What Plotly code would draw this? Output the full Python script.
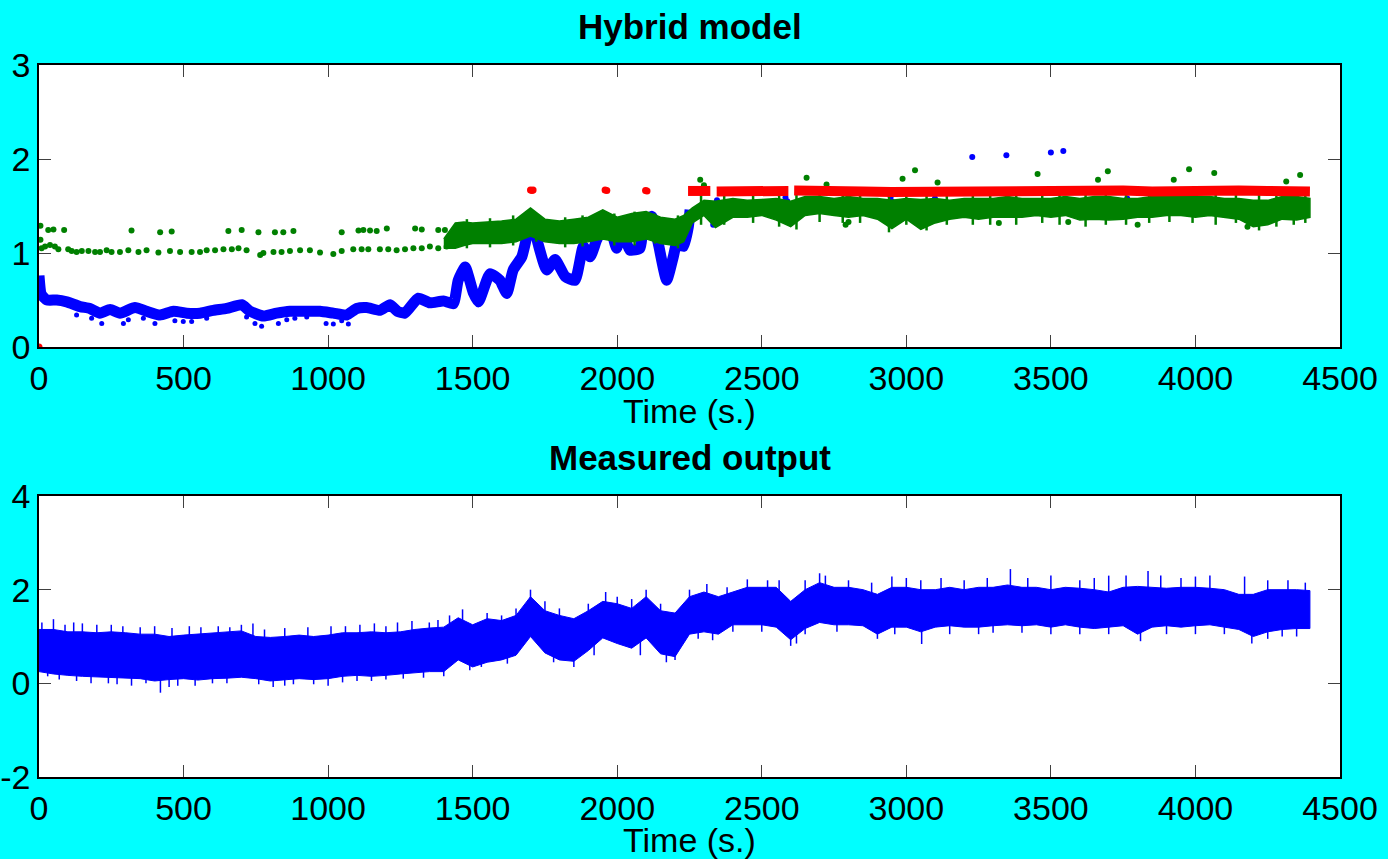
import plotly.graph_objects as go

# ---------------- Hybrid model (top panel) ----------------
# Blue: model output, dense track up to ~2250 s
blue_t = [0, 8, 27, 61, 96, 142, 176, 211, 246, 280, 332, 372, 419, 465, 511, 557,
          603, 649, 701, 730, 776, 822, 868, 926, 972, 1018, 1064, 1099, 1133, 1180,
          1214, 1240, 1265, 1312, 1352, 1399, 1433, 1450, 1474, 1502, 1520, 1560,
          1594, 1618, 1640, 1670, 1692, 1704, 1726, 1756, 1785, 1820, 1854, 1883,
          1906, 1929, 1958, 1975, 1998, 2016, 2044, 2079, 2090, 2119, 2142, 2171,
          2194, 2206, 2229, 2246, 2252]
blue_v = [0.76, 0.56, 0.50, 0.50, 0.48, 0.43, 0.41, 0.36, 0.40, 0.36, 0.42, 0.38,
          0.34, 0.38, 0.36, 0.36, 0.39, 0.41, 0.45, 0.38, 0.33, 0.36, 0.38, 0.38,
          0.38, 0.36, 0.34, 0.41, 0.42, 0.39, 0.45, 0.38, 0.36, 0.52, 0.47, 0.49,
          0.46, 0.71, 0.85, 0.58, 0.48, 0.78, 0.71, 0.57, 0.82, 0.96, 1.24, 1.39,
          1.10, 0.82, 0.93, 0.75, 0.71, 1.07, 0.96, 1.14, 1.32, 1.28, 1.05, 1.24,
          1.03, 1.05, 1.28, 1.39, 1.10, 0.71, 0.96, 1.10, 1.07, 1.28, 1.46]

# Blue: isolated low samples
blue_low_t = [130, 182, 217, 292, 309, 361, 401, 470, 499, 528, 580, 718, 747, 770,
              828, 857, 885, 926, 993, 1018, 1047, 1070]
blue_low_v = [0.34, 0.305, 0.25, 0.25, 0.29, 0.305, 0.25, 0.28, 0.27, 0.27, 0.305,
              0.32, 0.25, 0.22, 0.25, 0.29, 0.305, 0.32, 0.25, 0.245, 0.28, 0.245]

# Blue: sparse samples after 2250 s
blue_late_t = [2332, 2338, 2345, 2582, 2588, 2946, 2950, 3099, 3228, 3346, 3500,
               3543, 3764, 3808, 4223]
blue_late_v = [1.30, 1.38, 1.56, 1.59, 1.55, 1.60, 1.55, 1.58, 2.02, 2.04, 2.07,
               2.085, 1.58, 1.55, 1.51]

# Green: sparse samples before 1450 s
green_sparse_t = [5, 9, 21, 38, 55, 67, 101, 113, 130, 148, 171, 194, 211, 234, 251,
                  280, 309, 344, 372, 413, 453, 488, 528, 557, 580, 609, 638, 667,
                  690, 718, 765, 776, 811, 839, 868, 903, 937, 972, 1018, 1047, 1087,
                  1116, 1139, 1179, 1208, 1237, 1266, 1295, 1324, 1352, 1381, 1410,
                  1433,
                  5, 32, 50, 87, 320, 419, 459, 655, 701, 759, 816, 845, 880, 1047,
                  1105, 1122, 1145, 1168, 1203, 1301, 1324, 1381, 1404]
green_sparse_v = [1.14, 1.05, 1.07, 1.085, 1.07, 1.04, 1.04, 1.02, 1.01, 1.02, 1.02,
                  1.01, 1.01, 1.03, 1.01, 1.01, 1.03, 1.01, 1.03, 1.005, 1.02, 1.01,
                  1.01, 1.01, 1.03, 1.03, 1.04, 1.04, 1.05, 1.03, 0.98, 1.0, 1.01,
                  1.01, 1.02, 1.03, 1.03, 1.005, 0.99, 1.02, 1.04, 1.04, 1.04, 1.04,
                  1.04, 1.03, 1.04, 1.05, 1.05, 1.07, 1.05, 1.07, 1.085,
                  1.29, 1.245, 1.25, 1.245, 1.24, 1.22, 1.23, 1.235, 1.245, 1.22,
                  1.22, 1.22, 1.235, 1.22, 1.24, 1.245, 1.24, 1.235, 1.26, 1.26,
                  1.25, 1.245, 1.245]

# Green: dense band from ~1400 s onwards (lower / upper extent)
green_band_t = [1400, 1440, 1470, 1500, 1550, 1600, 1650, 1700, 1750, 1800, 1850,
                1900, 1950, 2000, 2050, 2100, 2150, 2200, 2230, 2260, 2300, 2340,
                2400, 2450, 2500, 2550, 2600, 2650, 2700, 2750, 2800, 2850, 2900,
                2950, 3000, 3050, 3100, 3150, 3200, 3250, 3300, 3350, 3400, 3450,
                3500, 3550, 3600, 3650, 3700, 3750, 3800, 3850, 3900, 3950, 4000,
                4050, 4100, 4150, 4200, 4250, 4300, 4350, 4396]
green_band_lo = [1.05, 1.05, 1.08, 1.10, 1.10, 1.10, 1.12, 1.18, 1.12, 1.10, 1.10,
                 1.12, 1.15, 1.12, 1.12, 1.15, 1.10, 1.08, 1.12, 1.32, 1.40, 1.27,
                 1.38, 1.38, 1.40, 1.35, 1.28, 1.40, 1.42, 1.40, 1.38, 1.40, 1.36,
                 1.26, 1.36, 1.25, 1.32, 1.36, 1.38, 1.36, 1.38, 1.38, 1.38, 1.40,
                 1.38, 1.40, 1.35, 1.36, 1.35, 1.36, 1.38, 1.38, 1.40, 1.40, 1.38,
                 1.40, 1.38, 1.36, 1.28, 1.30, 1.36, 1.35, 1.38]
green_band_hi = [1.15, 1.32, 1.33, 1.32, 1.33, 1.34, 1.36, 1.48, 1.36, 1.34, 1.36,
                 1.38, 1.46, 1.38, 1.42, 1.44, 1.38, 1.36, 1.40, 1.48, 1.56, 1.55,
                 1.58, 1.56, 1.57, 1.58, 1.55, 1.60, 1.60, 1.58, 1.60, 1.58, 1.58,
                 1.56, 1.58, 1.57, 1.58, 1.56, 1.58, 1.58, 1.58, 1.60, 1.58, 1.58,
                 1.58, 1.60, 1.58, 1.60, 1.60, 1.58, 1.58, 1.60, 1.60, 1.60, 1.60,
                 1.60, 1.58, 1.58, 1.56, 1.56, 1.60, 1.60, 1.58]

# Green: short excursions out of the band (time, min, max)
green_spk_t = [1480, 1560, 1640, 1720, 1820, 1880, 1990, 2060, 2130, 2210,
               2290, 2370, 2470, 2560, 2620, 2700, 2780, 2840, 2940, 3000,
               3070, 3140, 3230, 3290, 3380, 3470, 3530, 3620, 3690, 3760,
               3840, 3910, 3990, 4070, 4140, 4220, 4280, 4340, 4380]
green_spk_lo = [1.05, 1.06, 1.08, 1.12, 1.06, 1.07, 1.08, 1.08, 1.10, 1.05,
                1.30, 1.30, 1.32, 1.28, 1.25, 1.33, 1.32, 1.32, 1.22, 1.30,
                1.24, 1.30, 1.30, 1.30, 1.30, 1.32, 1.30, 1.28, 1.30, 1.30,
                1.32, 1.33, 1.32, 1.30, 1.32, 1.24, 1.28, 1.30, 1.32]
green_spk_hi = [1.36, 1.37, 1.40, 1.42, 1.38, 1.40, 1.42, 1.44, 1.42, 1.40,
                1.62, 1.64, 1.62, 1.64, 1.62, 1.65, 1.63, 1.64, 1.62, 1.66,
                1.64, 1.62, 1.64, 1.63, 1.64, 1.62, 1.66, 1.63, 1.64, 1.62,
                1.64, 1.66, 1.65, 1.64, 1.62, 1.62, 1.64, 1.68, 1.66]

# Green: scattered samples around the band after 2250 s
green_dot_t = [2287, 2300, 2655, 2724, 2790, 2800, 2987, 3030, 3108, 3320, 3454,
               3560, 3663, 3697, 3800, 3925, 3978, 4065, 4180, 4314, 4362]
green_dot_v = [1.78, 1.72, 1.80, 1.73, 1.30, 1.33, 1.79, 1.88, 1.75, 1.32, 1.84,
               1.33, 1.78, 1.87, 1.30, 1.78, 1.89, 1.85, 1.28, 1.76, 1.83]

# Red: active mode level
red_t = [2245, 2280, 2322, None, 2344, 2400, 2450, 2500, 2550, 2592, None, 2612,
         2650, 2750, 2850, 2950, 3050, 3150, 3250, 3350, 3450, 3550, 3650, 3750,
         3850, 3950, 4050, 4150, 4250, 4350, 4396]
red_v = [1.66, 1.655, 1.66, None, 1.655, 1.66, 1.665, 1.66, 1.655, 1.66, None, 1.665,
         1.66, 1.655, 1.655, 1.65, 1.655, 1.66, 1.655, 1.66, 1.665, 1.66, 1.66,
         1.665, 1.655, 1.665, 1.67, 1.665, 1.66, 1.66, 1.655]
red_dot_t = [0, 1700, 1705, 1709, 1958, 1964, 2098, 2103]
red_dot_v = [0.0, 1.67, 1.665, 1.67, 1.67, 1.665, 1.665, 1.66]

# ---------------- Measured output (bottom panel) ----------------
meas_t = list(range(0, 4401, 50))
meas_t[-1] = 4396
meas_hi = [1.15, 1.15, 1.10, 1.10, 1.08, 1.10, 1.08, 1.05, 1.05, 1.00, 1.03, 1.05,
           1.08, 1.10, 1.12, 1.00, 0.98, 1.00, 1.03, 1.00, 1.03, 1.08, 1.08, 1.10,
           1.08, 1.10, 1.15, 1.18, 1.20, 1.40, 1.25, 1.38, 1.34, 1.45, 1.85, 1.55,
           1.45, 1.38, 1.55, 1.75, 1.70, 1.60, 1.85, 1.55, 1.50, 1.85, 1.95, 1.85,
           1.95, 2.05, 2.05, 2.05, 1.75, 2.00, 2.15, 2.05, 2.05, 2.00, 1.90, 2.05,
           2.05, 2.00, 2.00, 2.05, 2.00, 2.05, 2.05, 2.10, 2.05, 2.05, 2.00, 2.05,
           2.03, 2.00, 1.95, 2.05, 2.07, 2.05, 2.03, 2.05, 2.05, 2.03, 2.00, 1.90,
           1.90, 2.00, 2.00, 2.00, 1.98]
meas_lo = [0.25, 0.20, 0.17, 0.15, 0.13, 0.13, 0.11, 0.10, 0.05, 0.08, 0.10, 0.07,
           0.10, 0.11, 0.13, 0.10, 0.05, 0.08, 0.10, 0.08, 0.10, 0.15, 0.17, 0.15,
           0.17, 0.20, 0.23, 0.25, 0.25, 0.50, 0.35, 0.45, 0.50, 0.60, 1.00, 0.65,
           0.50, 0.47, 0.70, 0.97, 0.85, 0.75, 0.97, 0.63, 0.57, 1.05, 1.10, 1.05,
           1.25, 1.25, 1.25, 1.20, 0.93, 1.17, 1.30, 1.25, 1.25, 1.23, 1.05, 1.20,
           1.20, 1.10, 1.20, 1.23, 1.20, 1.20, 1.23, 1.25, 1.23, 1.25, 1.20, 1.25,
           1.20, 1.17, 1.20, 1.23, 1.05, 1.20, 1.23, 1.20, 1.23, 1.25, 1.20, 1.15,
           1.00, 1.10, 1.15, 1.17, 1.17]

# Individual excursions of the measured signal (time, min, max)
meas_spk_t = [10, 50, 90, 120, 150, 200, 250, 290, 350, 400, 460, 520, 560, 620,
              660, 700, 740, 780, 850, 930, 1010, 1060, 1110, 1160, 1200, 1240,
              1290, 1350, 1380, 1420, 1465, 1550, 1600, 1650, 1700, 1750, 1800,
              1900, 1960, 2000, 2050, 2100, 2150, 2250, 2310, 2380, 2450, 2520,
              2560, 2650, 2700, 2720, 2800, 2880, 2950, 3000, 3050, 3120, 3200,
              3280, 3360, 3420, 3500, 3600, 3650, 3700, 3760, 3836, 3880, 3950,
              4000, 4050, 4170, 4250, 4320, 4380,
              30, 70, 130, 180, 240, 270, 320, 370, 420, 450, 480, 540, 600, 650,
              760, 810, 850, 880, 950, 1000, 1050, 1100, 1150, 1200, 1260, 1330,
              1400, 1490, 1530, 1620, 1780, 1850, 1920, 2080, 2170, 2200, 2280,
              2330, 2400, 2500, 2600, 2620, 2650, 2760, 2900, 2960, 3053, 3150,
              3250, 3300, 3400, 3500, 3600, 3700, 3810, 3900, 4000, 4100, 4195,
              4250, 4300, 4350]
meas_spk_lo = [0.7, 0.7, 0.6, 0.6, 0.6, 0.6, 0.6, 0.6, 0.6, 0.6, 0.6, 0.6, 0.6, 0.6,
               0.6, 0.6, 0.6, 0.6, 0.6, 0.6, 0.6, 0.6, 0.6, 0.6, 0.6, 0.6,
               0.7, 0.7, 0.7, 0.8, 1.0, 1.0, 1.0, 1.1, 1.4, 1.2, 1.1,
               1.2, 1.4, 1.3, 1.3, 1.4, 1.2, 1.5, 1.6, 1.6, 1.6, 1.6,
               1.6, 1.6, 1.7, 1.7, 1.6, 1.6, 1.6, 1.6, 1.6, 1.6, 1.6,
               1.6, 1.6, 1.6, 1.6, 1.6, 1.6, 1.6, 1.6, 1.6, 1.6, 1.6,
               1.6, 1.6, 1.6, 1.6, 1.6, 1.6,
               0.15, 0.08, 0.05, 0.00, 0.00, -0.02, -0.05, 0.00, -0.20, -0.08,
               -0.05, -0.05, 0.00, 0.00, -0.02, -0.08, -0.05, -0.02, -0.02, -0.05,
               0.02, 0.05, 0.05, 0.08, 0.10, 0.12, 0.15, 0.28, 0.35, 0.42, 0.45,
               0.35, 0.60, 0.60, 0.45, 0.50, 0.95, 0.92, 1.10, 1.10, 0.80, 0.85,
               1.05, 1.10, 0.95, 1.05, 0.84, 1.05, 1.05, 1.08, 1.08, 1.05, 1.05,
               1.05, 0.90, 1.05, 1.05, 1.05, 0.85, 0.95, 1.00, 1.00]
meas_spk_hi = [1.30, 1.37, 1.25, 1.30, 1.28, 1.25, 1.25, 1.22, 1.20, 1.22, 1.18,
               1.22, 1.20, 1.22, 1.20, 1.25, 1.28, 1.15, 1.18, 1.20, 1.22, 1.22,
               1.25, 1.28, 1.22, 1.30, 1.33, 1.30, 1.35, 1.45, 1.58, 1.50, 1.45,
               1.60, 2.00, 1.75, 1.60, 1.70, 1.95, 1.85, 1.80, 2.00, 1.70, 2.00,
               2.12, 2.05, 2.22, 2.20, 2.20, 2.20, 2.35, 2.30, 2.20, 2.15, 2.28,
               2.25, 2.20, 2.25, 2.20, 2.25, 2.44, 2.25, 2.30, 2.20, 2.25, 2.30,
               2.30, 2.40, 2.30, 2.25, 2.28, 2.30, 2.28, 2.20, 2.20, 2.15,
               0.7, 0.7, 0.6, 0.6, 0.6, 0.6, 0.6, 0.6, 0.6, 0.6, 0.6, 0.6, 0.6,
               0.6, 0.6, 0.6, 0.6, 0.6, 0.6, 0.6, 0.6, 0.6, 0.6, 0.6, 0.7, 0.7,
               0.7, 0.9, 0.9, 1.0, 1.0, 1.0, 1.1, 1.2, 1.1, 1.1, 1.5, 1.5, 1.6,
               1.6, 1.5, 1.5, 1.6, 1.6, 1.6, 1.6, 1.6, 1.6, 1.6, 1.6, 1.6, 1.6,
               1.6, 1.6, 1.6, 1.6, 1.6, 1.6, 1.6, 1.6, 1.6, 1.6]

x_ticks = [0, 500, 1000, 1500, 2000, 2500, 3000, 3500, 4000, 4500]
top_y_ticks = [0, 1, 2, 3]
bottom_y_ticks = [-2, 0, 2, 4]
bottom_y_labels = ["-2", "0", "2", "4"]

BLUE = "#0000ff"
GREEN = "#008000"
RED = "#ff0000"
FONT = "Liberation Sans, Arial, Helvetica, sans-serif"


def segments(ts, los, his):
    xs, ys = [], []
    for t, lo, hi in zip(ts, los, his):
        xs += [t, t, None]
        ys += [lo, hi, None]
    return xs, ys


fig = go.Figure()

# --- top panel traces ---
fig.add_trace(go.Scatter(x=blue_t, y=blue_v, mode="lines",
                         line=dict(color=BLUE, width=11, shape="spline",
                                   smoothing=0.5),
                         xaxis="x", yaxis="y"))
fig.add_trace(go.Scatter(x=blue_low_t, y=blue_low_v, mode="markers",
                         marker=dict(color=BLUE, size=5), xaxis="x", yaxis="y"))
fig.add_trace(go.Scatter(x=blue_late_t, y=blue_late_v, mode="markers",
                         marker=dict(color=BLUE, size=6), xaxis="x", yaxis="y"))
fig.add_trace(go.Scatter(x=green_sparse_t, y=green_sparse_v, mode="markers",
                         marker=dict(color=GREEN, size=6), xaxis="x", yaxis="y"))
fig.add_trace(go.Scatter(x=green_band_t + green_band_t[::-1],
                         y=green_band_hi + green_band_lo[::-1],
                         mode="lines", fill="toself", fillcolor=GREEN,
                         line=dict(color=GREEN, width=1.5), xaxis="x", yaxis="y"))
gx, gy = segments(green_spk_t, green_spk_lo, green_spk_hi)
fig.add_trace(go.Scatter(x=gx, y=gy, mode="lines",
                         line=dict(color=GREEN, width=2.5), xaxis="x", yaxis="y"))
fig.add_trace(go.Scatter(x=green_dot_t, y=green_dot_v, mode="markers",
                         marker=dict(color=GREEN, size=6), xaxis="x", yaxis="y"))
fig.add_trace(go.Scatter(x=red_t, y=red_v, mode="lines", connectgaps=False,
                         line=dict(color=RED, width=10), xaxis="x", yaxis="y"))
fig.add_trace(go.Scatter(x=red_dot_t, y=red_dot_v, mode="markers",
                         marker=dict(color=RED, size=7), xaxis="x", yaxis="y"))

# --- bottom panel traces ---
fig.add_trace(go.Scatter(x=meas_t + meas_t[::-1], y=meas_hi + meas_lo[::-1],
                         mode="lines", fill="toself", fillcolor=BLUE,
                         line=dict(color=BLUE, width=1), xaxis="x2", yaxis="y2"))
sx, sy = segments(meas_spk_t, meas_spk_lo, meas_spk_hi)
fig.add_trace(go.Scatter(x=sx, y=sy, mode="lines",
                         line=dict(color=BLUE, width=1.5), xaxis="x2", yaxis="y2"))

axis_common = dict(showgrid=False, zeroline=False, showline=True, linecolor="black",
                   linewidth=1.5, mirror="ticks", ticks="inside", ticklen=12,
                   tickwidth=1, tickcolor="#404040",
                   tickfont=dict(family=FONT, size=34, color="black"),
                   automargin=False)

fig.update_layout(
    width=1388, height=859,
    margin=dict(l=39, r=48, t=0, b=0),
    paper_bgcolor="#00ffff", plot_bgcolor="#ffffff",
    showlegend=False,
    xaxis=dict(domain=[0, 1], anchor="y", range=[0, 4500], tickvals=x_ticks,
               **axis_common),
    yaxis=dict(domain=[0.59604, 0.92433], anchor="x", range=[0, 3],
               tickvals=top_y_ticks, **axis_common),
    xaxis2=dict(domain=[0, 1], anchor="y2", range=[0, 4500], tickvals=x_ticks,
                **axis_common),
    yaxis2=dict(domain=[0.09546, 0.42258], anchor="x2", range=[-2, 4],
                tickvals=bottom_y_ticks, ticktext=bottom_y_labels,
                **axis_common),
    annotations=[
        dict(text="<b>Hybrid model</b>", x=0.5, y=1 - 27 / 859, xref="paper",
             yref="paper", showarrow=False, xanchor="center", yanchor="middle",
             font=dict(family=FONT, size=35, color="black")),
        dict(text="Time (s.)", x=0.5, y=1 - 411 / 859, xref="paper", yref="paper",
             showarrow=False, xanchor="center", yanchor="middle",
             font=dict(family=FONT, size=34, color="black")),
        dict(text="<b>Measured output</b>", x=0.5, y=1 - 457 / 859, xref="paper",
             yref="paper", showarrow=False, xanchor="center", yanchor="middle",
             font=dict(family=FONT, size=35, color="black")),
        dict(text="Time (s.)", x=0.5, y=1 - 840 / 859, xref="paper", yref="paper",
             showarrow=False, xanchor="center", yanchor="middle",
             font=dict(family=FONT, size=34, color="black")),
    ],
)

fig.write_html("out.html")
